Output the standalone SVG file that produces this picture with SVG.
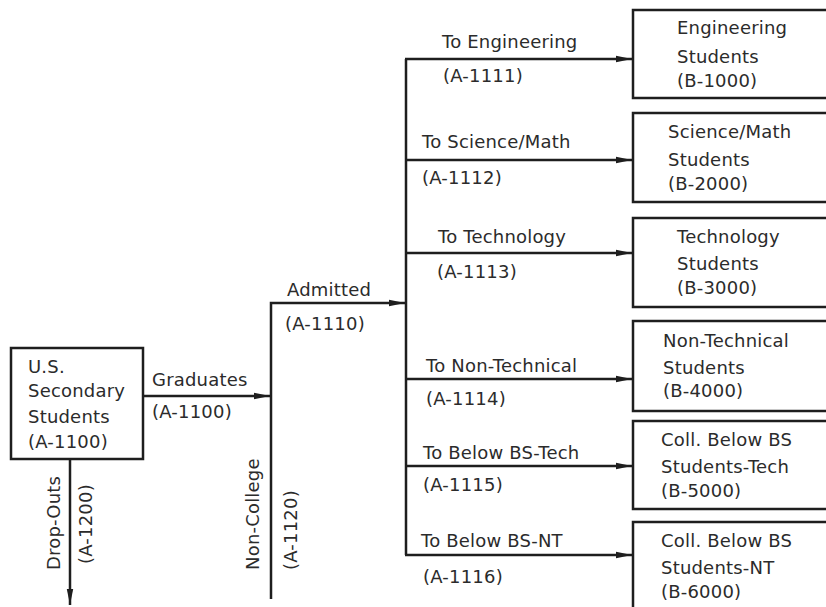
<svg xmlns="http://www.w3.org/2000/svg" width="826" height="607" viewBox="0 0 826 607">
<style>
text{font-family:"DejaVu Sans","Liberation Sans",sans-serif;font-size:18px;letter-spacing:0.2px;fill:#2b2b2b}
.box{fill:#fff;stroke:#1e1e1e;stroke-width:2.5}
.ln{fill:none;stroke:#1e1e1e;stroke-width:2.5}
.ar{marker-end:url(#ah)}
</style>
<defs>
<marker id="ah" markerUnits="userSpaceOnUse" markerWidth="18" markerHeight="8" refX="16" refY="4" orient="auto">
<path d="M0,0.8 L16,4 L0,7.2 z" fill="#1e1e1e"/>
</marker>
</defs>
<rect width="826" height="607" fill="#fff"/>
<g id="connectors">
<line class="ln ar" x1="143" y1="396" x2="270" y2="396"/>
<line class="ln ar" x1="70" y1="459" x2="70" y2="605"/>
<polyline class="ln ar" points="271,599 271,303 405,303"/>
<line class="ln" x1="406" y1="59" x2="406" y2="555"/>
<line class="ln ar" x1="405" y1="59" x2="632" y2="59"/>
<line class="ln ar" x1="405" y1="160" x2="632" y2="160"/>
<line class="ln ar" x1="405" y1="253" x2="632" y2="253"/>
<line class="ln ar" x1="405" y1="379" x2="632" y2="379"/>
<line class="ln ar" x1="405" y1="466" x2="632" y2="466"/>
<line class="ln ar" x1="405" y1="555" x2="632" y2="555"/>
</g>
<g id="labels">
<text x="152" y="386">Graduates</text>
<text x="152" y="418">(A-1100)</text>
<text transform="translate(60,570) rotate(-90)">Drop-Outs</text>
<text transform="translate(92,564) rotate(-90)">(A-1200)</text>
<text transform="translate(259,570) rotate(-90)">Non-College</text>
<text transform="translate(297,570) rotate(-90)">(A-1120)</text>
<text x="287" y="296">Admitted</text>
<text x="285" y="330">(A-1110)</text>
<text x="442" y="48">To Engineering</text>
<text x="443" y="82">(A-1111)</text>
<text x="422" y="148">To Science/Math</text>
<text x="422" y="184">(A-1112)</text>
<text x="438" y="243">To Technology</text>
<text x="437" y="278">(A-1113)</text>
<text x="426" y="372">To Non-Technical</text>
<text x="426" y="405">(A-1114)</text>
<text x="423" y="459">To Below BS-Tech</text>
<text x="423" y="491">(A-1115)</text>
<text x="421" y="547">To Below BS-NT</text>
<text x="423" y="583">(A-1116)</text>
</g>
<g id="node-secondary">
<rect class="box" x="11" y="348" width="132" height="111"/>
<text x="28" y="373">U.S.</text>
<text x="28" y="397">Secondary</text>
<text x="28" y="423">Students</text>
<text x="28" y="448">(A-1100)</text>
</g>
<g id="node-b1000">
<rect class="box" x="633" y="10" width="210" height="88"/>
<text x="677" y="34">Engineering</text>
<text x="677" y="63">Students</text>
<text x="677" y="87">(B-1000)</text>
</g>
<g id="node-b2000">
<rect class="box" x="633" y="113" width="210" height="89"/>
<text x="668" y="138">Science/Math</text>
<text x="668" y="166">Students</text>
<text x="668" y="190">(B-2000)</text>
</g>
<g id="node-b3000">
<rect class="box" x="633" y="218" width="210" height="89"/>
<text x="677" y="243">Technology</text>
<text x="677" y="270">Students</text>
<text x="677" y="294">(B-3000)</text>
</g>
<g id="node-b4000">
<rect class="box" x="633" y="321" width="210" height="90"/>
<text x="663" y="347">Non-Technical</text>
<text x="663" y="374">Students</text>
<text x="663" y="397">(B-4000)</text>
</g>
<g id="node-b5000">
<rect class="box" x="633" y="421" width="210" height="88"/>
<text x="661" y="446">Coll. Below BS</text>
<text x="661" y="473">Students-Tech</text>
<text x="661" y="497">(B-5000)</text>
</g>
<g id="node-b6000">
<rect class="box" x="633" y="522" width="210" height="100"/>
<text x="661" y="547">Coll. Below BS</text>
<text x="661" y="574">Students-NT</text>
<text x="661" y="598">(B-6000)</text>
</g>
</svg>
